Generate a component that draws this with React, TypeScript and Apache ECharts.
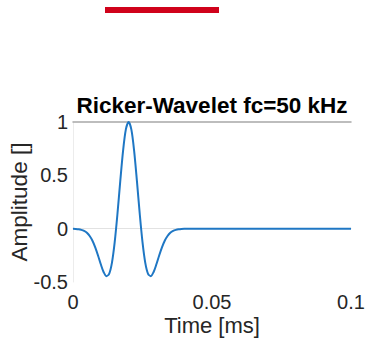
import React, { useEffect, useRef } from "react";
import * as echarts from "echarts";

// Sampled Ricker wavelet, fc = 50 kHz (time in ms)
const timeMs = [
  0, 0.001, 0.002, 0.003, 0.004, 0.005, 0.006, 0.007, 0.008, 0.009,
  0.01, 0.011, 0.012, 0.013, 0.014, 0.015, 0.016, 0.017, 0.018, 0.019,
  0.02, 0.021, 0.022, 0.023, 0.024, 0.025, 0.026, 0.027, 0.028, 0.029,
  0.03, 0.031, 0.032, 0.033, 0.034, 0.035, 0.036, 0.037, 0.038, 0.039,
  0.04, 0.05, 0.06, 0.07, 0.08, 0.09, 0.1,
];
const amplitude = [
  -0.001, -0.002, -0.005, -0.011, -0.021, -0.039, -0.069, -0.113, -0.175, -0.251,
  -0.334, -0.406, -0.445, -0.423, -0.32, -0.126, 0.142, 0.445, 0.727, 0.928,
  1.0, 0.928, 0.727, 0.445, 0.142, -0.126, -0.32, -0.423, -0.445, -0.406,
  -0.334, -0.251, -0.175, -0.113, -0.069, -0.039, -0.021, -0.011, -0.005, -0.002,
  -0.001, 0, 0, 0, 0, 0, 0,
];

const titleText = "Ricker-Wavelet fc=50 kHz";
const xName = "Time [ms]";
const yName = "Amplitude []";

const FONT = "'Liberation Sans', Arial, Helvetica, sans-serif";

export default function App() {
  const ref = useRef<HTMLDivElement>(null);

  useEffect(() => {
    if (!ref.current) return;
    const chart = echarts.init(ref.current, undefined, { renderer: "svg" });
    const points = timeMs.map((t, i) => [t, amplitude[i]]);

    chart.setOption({
      animation: false,
      backgroundColor: "#ffffff",
      grid: {
        left: 73,
        right: 15,
        top: 122,
        bottom: 62,
        containLabel: false,
        outerBoundsMode: "none",
      },
      graphic: [
        {
          type: "rect",
          shape: { x: 105, y: 7, width: 114, height: 6 },
          style: { fill: "#d0021b" },
        },
        {
          type: "text",
          x: 212,
          y: 105.5,
          style: {
            text: titleText,
            fontFamily: FONT,
            fontSize: 22.5,
            fontWeight: "bold",
            fill: "#000000",
            align: "center",
            verticalAlign: "middle",
          },
        },
      ],
      xAxis: [
        {
          type: "value",
          min: 0,
          max: 0.1,
          interval: 0.05,
          position: "bottom",
          name: xName,
          nameLocation: "middle",
          nameGap: 32,
          nameMoveOverlap: false,
          nameTextStyle: { fontFamily: FONT, fontSize: 22, color: "#262626" },
          axisLine: { show: true, lineStyle: { color: "#e2e2e2", width: 1 } },
          axisTick: { show: false },
          splitLine: { show: false },
          axisLabel: { fontFamily: FONT, fontSize: 20, color: "#262626", margin: 10 },
        },
        {
          type: "value",
          min: 0,
          max: 0.1,
          position: "top",
          axisLine: { show: true, lineStyle: { color: "#a8a8a8", width: 1.5 } },
          axisTick: { show: false },
          axisLabel: { show: false },
          splitLine: { show: false },
        },
      ],
      yAxis: {
        type: "value",
        min: -0.5,
        max: 1,
        interval: 0.5,
        name: yName,
        nameLocation: "middle",
        nameGap: 42,
        nameRotate: 90,
        nameMoveOverlap: false,
        nameTextStyle: { fontFamily: FONT, fontSize: 22.5, color: "#262626" },
        axisLine: { show: true, lineStyle: { color: "#ececec", width: 1 } },
        axisTick: { show: false },
        splitLine: { show: false },
        axisLabel: { fontFamily: FONT, fontSize: 20, color: "#262626", margin: 5 },
      },
      series: [
        {
          type: "line",
          xAxisIndex: 0,
          data: points,
          showSymbol: false,
          smooth: 0.3,
          lineStyle: { color: "#1f77c4", width: 2 },
        },
      ],
    });

    return () => chart.dispose();
  }, []);

  return (
    <div
      ref={ref}
      style={{ position: "fixed", left: 0, top: 0, width: 366, height: 344 }}
    />
  );
}
